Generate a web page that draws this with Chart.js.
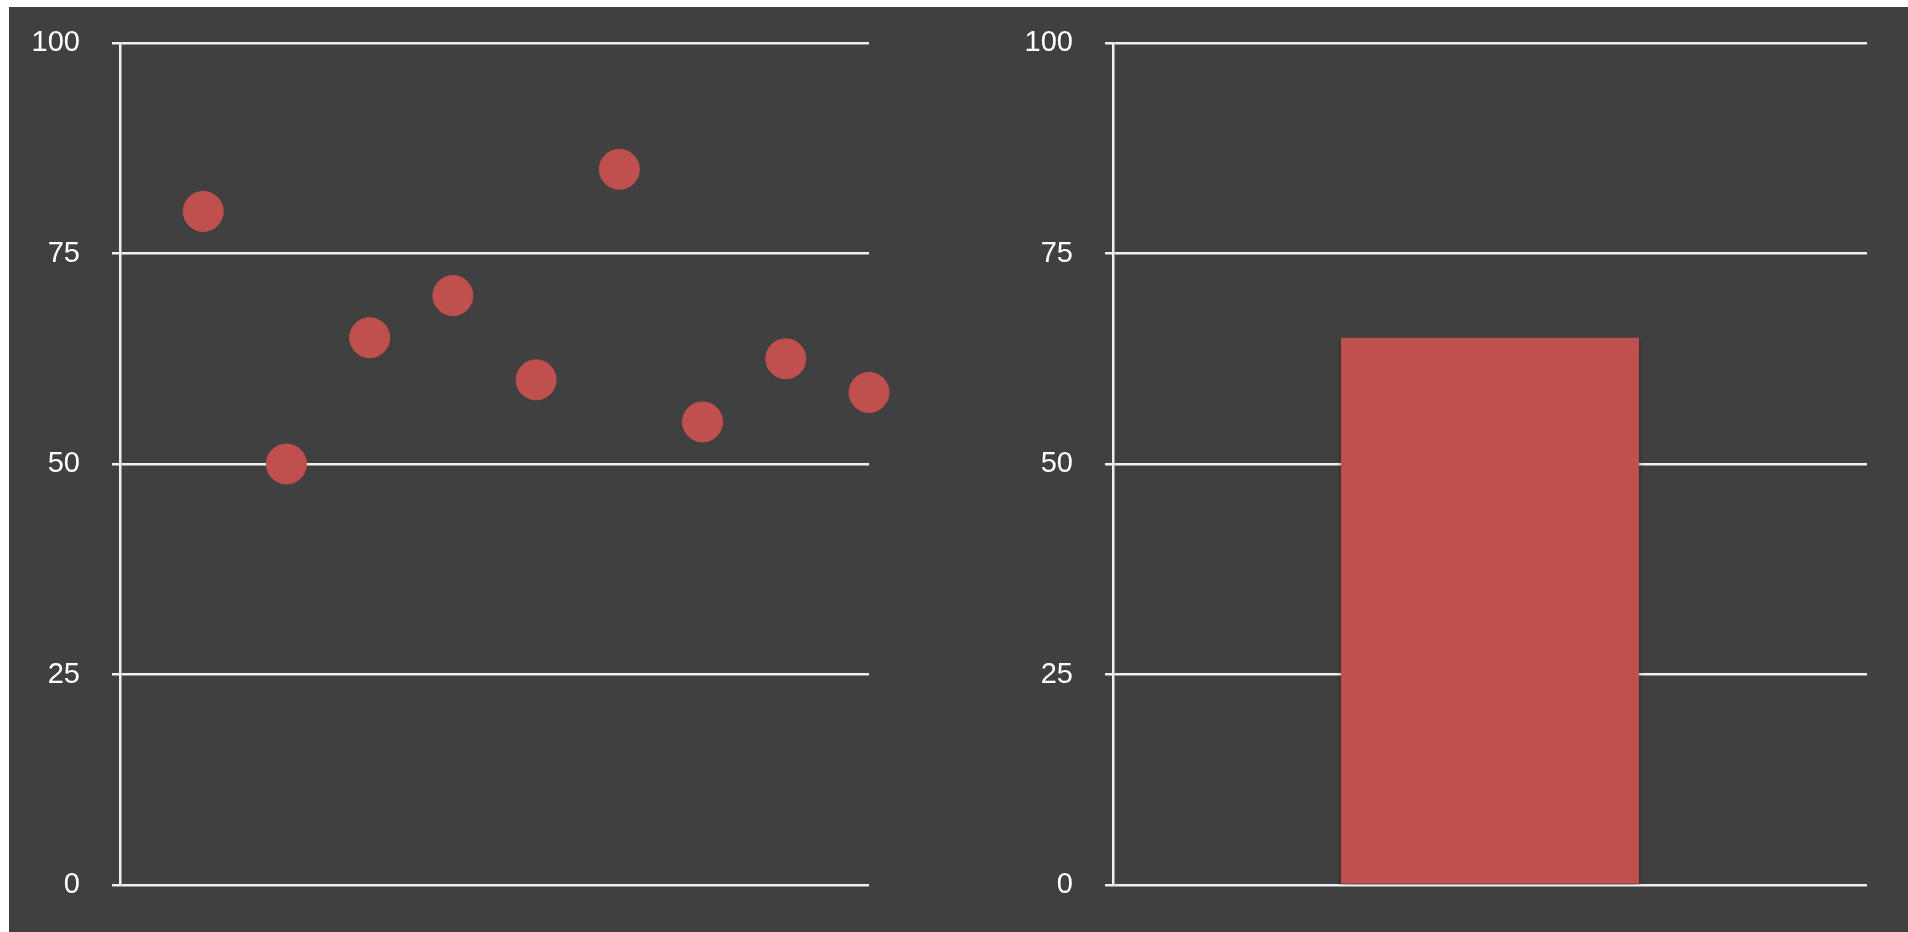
<!DOCTYPE html>
<html>
<head>
<meta charset="utf-8">
<script src="https://cdn.jsdelivr.net/npm/chart.js@4.4.1/dist/chart.umd.min.js"></script>
<style>
  html, body { margin: 0; padding: 0; background: #ffffff; width: 1908px; height: 932px; overflow: hidden; }
  #bg { position: absolute; left: 9px; top: 7px; right: 0; bottom: 0; background: #404040; }
  .box { position: absolute; top: 0; height: 932px; }
  #boxA { left: 9px; width: 945px; }
  #boxB { left: 954px; width: 954px; }
</style>
</head>
<body>
<div id="bg"></div>
<div class="box" id="boxA"><canvas id="chartA"></canvas></div>
<div class="box" id="boxB"><canvas id="chartB"></canvas></div>
<script>
// ---- data ----
const scatterX = [1, 2, 3, 4, 5, 6, 7, 8, 9];
const scatterY = [80, 50, 65, 70, 60, 85, 55, 62.5, 58.5];
const barCategories = ["A"];
const barValues = [65];
const yTicks = [0, 25, 50, 75, 100];

const RED = '#c0504d';
const GRID = '#f0f0f0';
const FONT = { family: '"Liberation Sans", Arial, Helvetica, sans-serif', size: 29 };

function yScale(width) {
  return {
    min: 0, max: 100,
    afterBuildTicks: s => { s.ticks = yTicks.map(v => ({ value: v })); },
    afterFit: s => { s.width = width; s.paddingTop = 0; s.paddingBottom = 0; },
    ticks: { color: '#ffffff', font: FONT, padding: 32 },
    grid: { color: GRID, lineWidth: 2.5, tickLength: 8, drawTicks: true },
    border: { display: true, color: GRID, width: 2.5 }
  };
}

Chart.defaults.animation = false;

new Chart(document.getElementById('chartA'), {
  type: 'scatter',
  data: {
    datasets: [{
      data: scatterX.map((x, i) => ({ x: x, y: scatterY[i] })),
      backgroundColor: RED,
      borderColor: RED,
      borderWidth: 1,
      pointRadius: 20,
      pointHoverRadius: 20,
      clip: false
    }]
  },
  options: {
    responsive: true,
    maintainAspectRatio: false,
    layout: { padding: { left: 0, right: 85, top: 43, bottom: 47 } },
    plugins: { legend: { display: false }, tooltip: { enabled: false } },
    scales: {
      x: { type: 'linear', min: 0, max: 9, display: false },
      y: yScale(111)
    }
  }
});

const shadowPlugin = {
  id: 'barShadow',
  beforeDatasetsDraw(chart) {
    const ctx = chart.ctx;
    ctx.save();
    ctx.shadowColor = 'rgba(0,0,0,0.4)';
    ctx.shadowBlur = 5;
    ctx.shadowOffsetY = 3;
  },
  afterDatasetsDraw(chart) { chart.ctx.restore(); }
};

new Chart(document.getElementById('chartB'), {
  type: 'bar',
  data: {
    labels: barCategories,
    datasets: [{
      data: barValues,
      backgroundColor: RED,
      borderWidth: 0,
      categoryPercentage: 0.8,
      barPercentage: 0.494
    }]
  },
  options: {
    responsive: true,
    maintainAspectRatio: false,
    layout: { padding: { left: 0, right: 41, top: 43, bottom: 47 } },
    plugins: { legend: { display: false }, tooltip: { enabled: false } },
    scales: {
      x: { display: false },
      y: yScale(159)
    }
  },
  plugins: [shadowPlugin]
});
</script>
</body>
</html>
